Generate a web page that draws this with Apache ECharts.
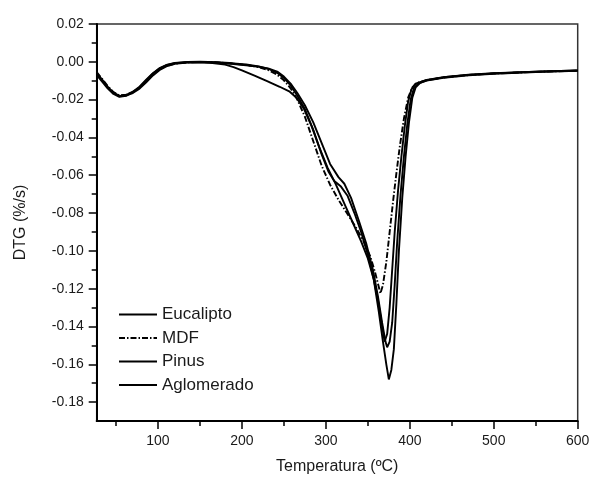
<!DOCTYPE html>
<html>
<head>
<meta charset="utf-8">
<script src="https://cdn.jsdelivr.net/npm/echarts@6/dist/echarts.min.js"></script>
<style>
  html, body { margin: 0; padding: 0; background: #fff; }
  #chart { width: 591px; height: 477px; }
</style>
</head>
<body>
<div id="chart"></div>
<script>
// temperature (ºC), DTG (%/s)
const eucalipto = [
  [27,-0.0065],[33,-0.0095],[40,-0.0135],[47,-0.0165],[54,-0.0182],[62,-0.0176],[70,-0.0158],[78,-0.0132],
  [86,-0.0095],[94,-0.006],[102,-0.0033],[110,-0.0017],[120,-0.0006],[135,-0.0001],[150,0],[170,-0.0002],
  [190,-0.0008],[205,-0.0014],[220,-0.0024],[232,-0.0038],[242,-0.0058],[250,-0.0085],[258,-0.0125],[266,-0.018],
  [275,-0.025],[285,-0.036],[295,-0.049],[303,-0.058],[310,-0.063],[318,-0.066],[326,-0.071],[334,-0.08],
  [342,-0.09],[350,-0.102],[357,-0.115],[363,-0.132],[368,-0.148],[372,-0.16],[375,-0.168],[378,-0.163],
  [381,-0.152],[384,-0.128],[387,-0.1],[391,-0.072],[395,-0.05],[399,-0.032],[403,-0.019],[407,-0.0135],
  [412,-0.0112],[420,-0.0098],[440,-0.0082],[470,-0.0068],[500,-0.006],[550,-0.0052],[600,-0.0046]
];
const mdf = [
  [27,-0.0055],[33,-0.0088],[40,-0.0128],[47,-0.016],[54,-0.0178],[62,-0.0174],[70,-0.016],[78,-0.0138],
  [86,-0.0102],[94,-0.0068],[102,-0.004],[110,-0.0022],[120,-0.001],[135,-0.0003],[150,-0.0001],[170,-0.0003],
  [190,-0.001],[205,-0.0017],[220,-0.0028],[232,-0.0045],[242,-0.0068],[250,-0.0098],[258,-0.014],[266,-0.02],
  [275,-0.029],[285,-0.042],[295,-0.055],[305,-0.065],[315,-0.073],[325,-0.08],[335,-0.087],[345,-0.095],
  [353,-0.103],[359,-0.112],[363,-0.119],[365,-0.1225],[368,-0.118],[372,-0.106],[376,-0.09],[380,-0.074],
  [384,-0.059],[388,-0.045],[393,-0.03],[398,-0.019],[403,-0.0135],[408,-0.0112],[420,-0.0097],[440,-0.0083],
  [470,-0.007],[500,-0.0062],[550,-0.0053],[600,-0.0047]
];
const pinus = [
  [27,-0.007],[33,-0.0102],[40,-0.014],[47,-0.017],[54,-0.0185],[62,-0.018],[70,-0.0162],[78,-0.0135],
  [86,-0.0098],[94,-0.0062],[102,-0.0035],[110,-0.0018],[120,-0.0007],[135,-0.0002],[150,-0.0001],[170,-0.0004],
  [190,-0.0012],[205,-0.0018],[220,-0.0026],[232,-0.0036],[242,-0.0052],[250,-0.0078],[258,-0.0115],[266,-0.0165],
  [275,-0.023],[285,-0.032],[295,-0.043],[305,-0.054],[315,-0.061],[322,-0.0645],[330,-0.072],[340,-0.085],
  [348,-0.096],[356,-0.11],[362,-0.124],[367,-0.138],[371,-0.148],[373,-0.151],[376,-0.148],[379,-0.138],
  [382,-0.118],[385,-0.095],[389,-0.07],[393,-0.05],[397,-0.033],[401,-0.02],[405,-0.0138],[410,-0.0115],
  [420,-0.0099],[440,-0.0084],[470,-0.0071],[500,-0.0063],[550,-0.0054],[600,-0.0048]
];
const aglomerado = [
  [27,-0.006],[33,-0.0092],[40,-0.0132],[47,-0.0163],[54,-0.018],[62,-0.0178],[70,-0.0165],[78,-0.0142],
  [86,-0.0108],[94,-0.0072],[102,-0.0043],[110,-0.0024],[120,-0.0011],[135,-0.0004],[150,-0.0003],[165,-0.0006],
  [180,-0.0015],[190,-0.0028],[200,-0.0045],[215,-0.0073],[230,-0.0102],[245,-0.0132],[257,-0.0158],[265,-0.019],
  [274,-0.025],[283,-0.034],[292,-0.045],[302,-0.056],[312,-0.065],[322,-0.075],[332,-0.085],[342,-0.095],
  [350,-0.104],[357,-0.115],[362,-0.126],[366,-0.137],[370,-0.148],[373,-0.144],[376,-0.13],[379,-0.11],
  [382,-0.09],[386,-0.068],[390,-0.05],[394,-0.034],[398,-0.021],[402,-0.0145],[407,-0.0115],[420,-0.0096],
  [440,-0.0081],[470,-0.0069],[500,-0.0061],[550,-0.0052],[600,-0.0046]
];

const seriesNames = ['Eucalipto', 'MDF', 'Pinus', 'Aglomerado'];
const xTicks = [100, 200, 300, 400, 500, 600];
const xMinorTicks = [50, 150, 250, 350, 450, 550];
const yTicks = [-0.18, -0.16, -0.14, -0.12, -0.10, -0.08, -0.06, -0.04, -0.02, 0.00, 0.02];
const yMinorTicks = [-0.17, -0.15, -0.13, -0.11, -0.09, -0.07, -0.05, -0.03, -0.01, 0.01];

const font = '"Liberation Sans", Arial, sans-serif';
const ink = '#1a1a1a';

const chart = echarts.init(document.getElementById('chart'));

const mkSeries = (name, data, dash) => ({
  name: name,
  type: 'line',
  data: data,
  showSymbol: false,
  symbol: 'none',
  color: '#000',
  itemStyle: { color: '#000' },
  lineStyle: { color: '#000', width: 1.9, type: dash || 'solid' }
});

const option = {
  backgroundColor: '#fff',
  animation: false,
  grid: {
    left: 96.7, right: 13.3, top: 24, bottom: 56,
    outerBoundsMode: 'none',
    show: true, borderColor: '#333', borderWidth: 1.5, backgroundColor: 'transparent'
  },
  legend: {
    orient: 'vertical',
    left: 118, top: 306,
    itemWidth: 38, itemHeight: 14, itemGap: 6.5,
    padding: 0,
    data: seriesNames,
    itemStyle: { opacity: 0, borderWidth: 0 },
    textStyle: { fontFamily: font, fontSize: 17, color: ink }
  },
  xAxis: [
    {
      type: 'value', min: 27, max: 600,
      name: 'Temperatura (ºC)', nameLocation: 'middle', nameGap: 38,
      nameTextStyle: { fontFamily: font, fontSize: 16, color: ink },
      axisLine: { show: true, onZero: false, lineStyle: { color: '#000', width: 2 } },
      axisTick: { show: true, inside: false, length: 8, customValues: xTicks, lineStyle: { color: '#000', width: 1.5 } },
      axisLabel: { customValues: xTicks, margin: 13, fontFamily: font, fontSize: 14, color: ink },
      splitLine: { show: false }
    },
    {
      type: 'value', min: 27, max: 600, position: 'bottom',
      axisLine: { show: false, onZero: false },
      axisTick: { show: true, length: 5, customValues: xMinorTicks, lineStyle: { color: '#000', width: 1.5 } },
      axisLabel: { show: false },
      splitLine: { show: false }
    }
  ],
  yAxis: [
    {
      type: 'value', min: -0.19, max: 0.02,
      name: 'DTG (%/s)', nameLocation: 'middle', nameGap: 68,
      nameTextStyle: { fontFamily: font, fontSize: 16, color: ink },
      axisLine: { show: true, onZero: false, lineStyle: { color: '#000', width: 2 } },
      axisTick: { show: true, inside: false, length: 8, customValues: yTicks, lineStyle: { color: '#000', width: 1.5 } },
      axisLabel: {
        customValues: yTicks, margin: 13, fontFamily: font, fontSize: 14, color: ink,
        formatter: (v) => v.toFixed(2)
      },
      splitLine: { show: false }
    },
    {
      type: 'value', min: -0.19, max: 0.02, position: 'left',
      axisLine: { show: false, onZero: false },
      axisTick: { show: true, length: 5, customValues: yMinorTicks, lineStyle: { color: '#000', width: 1.5 } },
      axisLabel: { show: false },
      splitLine: { show: false }
    }
  ],
  series: [
    mkSeries('Eucalipto', eucalipto),
    mkSeries('MDF', mdf, [6, 2, 1.5, 2]),
    mkSeries('Pinus', pinus),
    mkSeries('Aglomerado', aglomerado)
  ]
};

chart.setOption(option);
</script>
</body>
</html>
